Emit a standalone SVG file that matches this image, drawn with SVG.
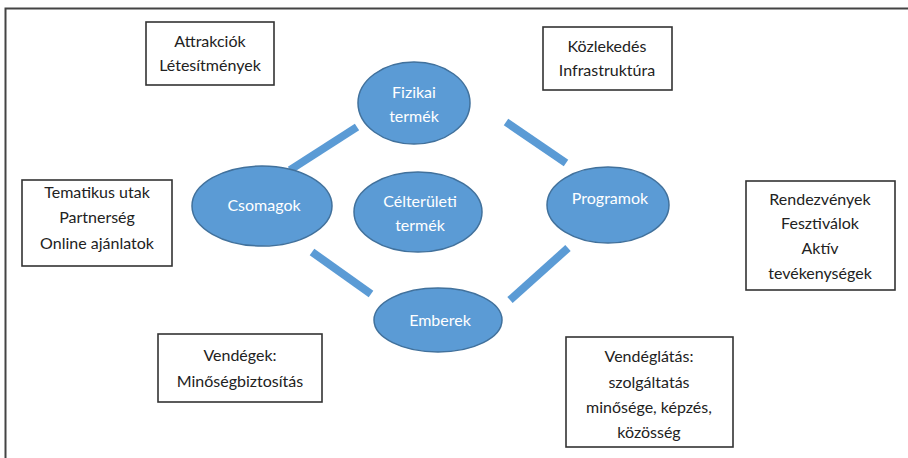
<svg xmlns="http://www.w3.org/2000/svg" width="908" height="458" viewBox="0 0 908 458">
<style>
.box rect{fill:#fff;stroke:#333;stroke-width:1.6}
.box text{font-family:Lato,"Open Sans","Liberation Sans",sans-serif;font-size:16px;fill:#222;text-anchor:middle}
.ell ellipse{fill:#5B9BD5;stroke:#41719C;stroke-width:1.5}
.ell text{font-family:Lato,"Open Sans","Liberation Sans",sans-serif;font-size:16px;fill:#fff;text-anchor:middle}
.conn line{stroke:#5B9BD5;stroke-width:8}
</style>
<rect width="908" height="458" fill="#fff"/>
<path d="M5.5 458 V8.5 H908" fill="none" stroke="#444" stroke-width="2"/>
<g id="connectors" class="conn">
<line x1="357" y1="127" x2="290" y2="170"/>
<line x1="506" y1="122" x2="566" y2="163"/>
<line x1="312" y1="252" x2="371" y2="294"/>
<line x1="568" y1="248" x2="510" y2="300"/>
</g>
<g id="fizikai" class="ell"><ellipse cx="414" cy="103" rx="56" ry="41"/><text x="414" y="98">Fizikai</text><text x="414" y="122">termék</text></g>
<g id="csomagok" class="ell"><ellipse cx="262" cy="206" rx="70" ry="40"/><text x="264" y="211">Csomagok</text></g>
<g id="celteruleti" class="ell"><ellipse cx="418" cy="212" rx="64" ry="40"/><text x="420" y="207">Célterületi</text><text x="420" y="231">termék</text></g>
<g id="programok" class="ell"><ellipse cx="608" cy="205" rx="61" ry="38"/><text x="610" y="204">Programok</text></g>
<g id="emberek" class="ell"><ellipse cx="438" cy="320" rx="64" ry="32"/><text x="440" y="326">Emberek</text></g>
<g id="attrakciok" class="box"><rect x="146" y="22" width="128" height="63"/><text x="210" y="47">Attrakciók</text><text x="210" y="71">Létesítmények</text></g>
<g id="kozlekedes" class="box"><rect x="543" y="27" width="129" height="63"/><text x="607" y="52">Közlekedés</text><text x="607" y="76">Infrastruktúra</text></g>
<g id="tematikus" class="box"><rect x="22" y="180" width="150" height="86"/><text x="97" y="198">Tematikus utak</text><text x="97" y="223">Partnerség</text><text x="97" y="249">Online ajánlatok</text></g>
<g id="rendezvenyek" class="box"><rect x="746" y="181" width="149" height="109"/><text x="820" y="205">Rendezvények</text><text x="820" y="229">Fesztiválok</text><text x="820" y="254">Aktív</text><text x="820" y="279">tevékenységek</text></g>
<g id="vendegek" class="box"><rect x="158" y="334" width="164" height="68"/><text x="240" y="361">Vendégek:</text><text x="240" y="387">Minőségbiztosítás</text></g>
<g id="vendeglatas" class="box"><rect x="566" y="337" width="167" height="110"/><text x="649" y="362">Vendéglátás:</text><text x="649" y="388">szolgáltatás</text><text x="649" y="413">minősége, képzés,</text><text x="649" y="438">közösség</text></g>
</svg>
